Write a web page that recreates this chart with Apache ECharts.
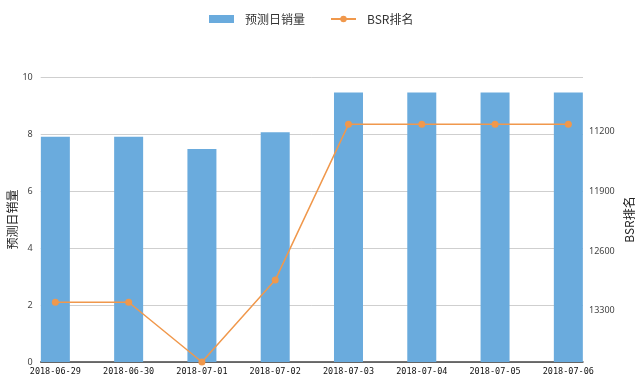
<!DOCTYPE html>
<html>
<head>
<meta charset="utf-8">
<script src="https://cdn.jsdelivr.net/npm/echarts@6/dist/echarts.min.js"></script>
<style>html,body{margin:0;padding:0;background:#fff}#c{width:640px;height:384px}</style>
</head>
<body>
<div id="c"></div>
<script>
var categories = ['2018-06-29','2018-06-30','2018-07-01','2018-07-02','2018-07-03','2018-07-04','2018-07-05','2018-07-06'];
var salesValues = [7.9, 7.9, 7.47, 8.06, 9.46, 9.46, 9.46, 9.46];
var bsrValues = [13200, 13200, 13900, 12940, 11115, 11115, 11115, 11115];
var leftTicks = [0, 2, 4, 6, 8, 10];
var rightTicks = [11200, 11900, 12600, 13300];
var categoryIndex = categories.map(function (c, i) { return i; });

var chart = echarts.init(document.getElementById('c'));
chart.setOption({
  animation: false,
  legend: {
    top: 8, left: 204,
    itemWidth: 25, itemHeight: 8, itemGap: 25,
    textStyle: { fontSize: 12, color: '#333', fontFamily: 'Noto Sans CJK SC', padding: [0, 0, 0, 6] },
    data: [
      { name: '预测日销量', icon: 'rect' },
      { name: 'BSR排名' }
    ]
  },
  grid: { left: 40.7, right: 57, top: 77, bottom: 22, containLabel: false, outerBoundsMode: 'none' },
  xAxis: {
    type: 'value', min: -0.2, max: 7.2,
    axisLine: { show: true, onZero: false, lineStyle: { color: '#444', width: 1.5 } },
    axisTick: { show: false },
    splitLine: { show: false },
    axisLabel: {
      customValues: categoryIndex,
      formatter: function (v) { return categories[Math.round(v)]; },
      fontFamily: 'DejaVu Sans Mono', fontSize: 8.5, color: '#111', margin: 5
    }
  },
  yAxis: [
    {
      type: 'value', min: 0, max: 10, interval: 2,
      name: '预测日销量', nameLocation: 'middle', nameGap: 22, nameMoveOverlap: false,
      nameTextStyle: { fontSize: 12, color: '#222', fontFamily: 'Noto Sans CJK SC' },
      axisLine: { show: false }, axisTick: { show: false },
      axisLabel: { fontSize: 9, color: '#444', fontFamily: 'Noto Sans', margin: 8, customValues: leftTicks },
      splitLine: { lineStyle: { color: '#cfcfcf', width: 1 } }
    },
    {
      type: 'value', inverse: true, min: 10560, max: 13900,
      name: 'BSR排名', nameLocation: 'middle', nameGap: 40, nameMoveOverlap: false,
      nameTextStyle: { fontSize: 12, color: '#222', fontFamily: 'Noto Sans CJK SC' },
      axisLine: { show: false }, axisTick: { show: false },
      axisLabel: {
        fontSize: 9, color: '#444', fontFamily: 'Noto Sans', margin: 6, customValues: rightTicks,
        formatter: function (v) { return String(v); }
      },
      splitLine: { show: false }
    }
  ],
  series: [
    {
      name: '预测日销量', type: 'bar', barWidth: 29,
      itemStyle: { color: '#6aabdd' },
      data: salesValues.map(function (v, i) { return [i, v]; })
    },
    {
      name: 'BSR排名', type: 'line', yAxisIndex: 1,
      symbol: 'circle', symbolSize: 7,
      itemStyle: { color: '#f0984c' },
      lineStyle: { color: '#f0984c', width: 1.5 },
      data: bsrValues.map(function (v, i) { return [i, v]; })
    }
  ]
});
</script>
</body>
</html>
